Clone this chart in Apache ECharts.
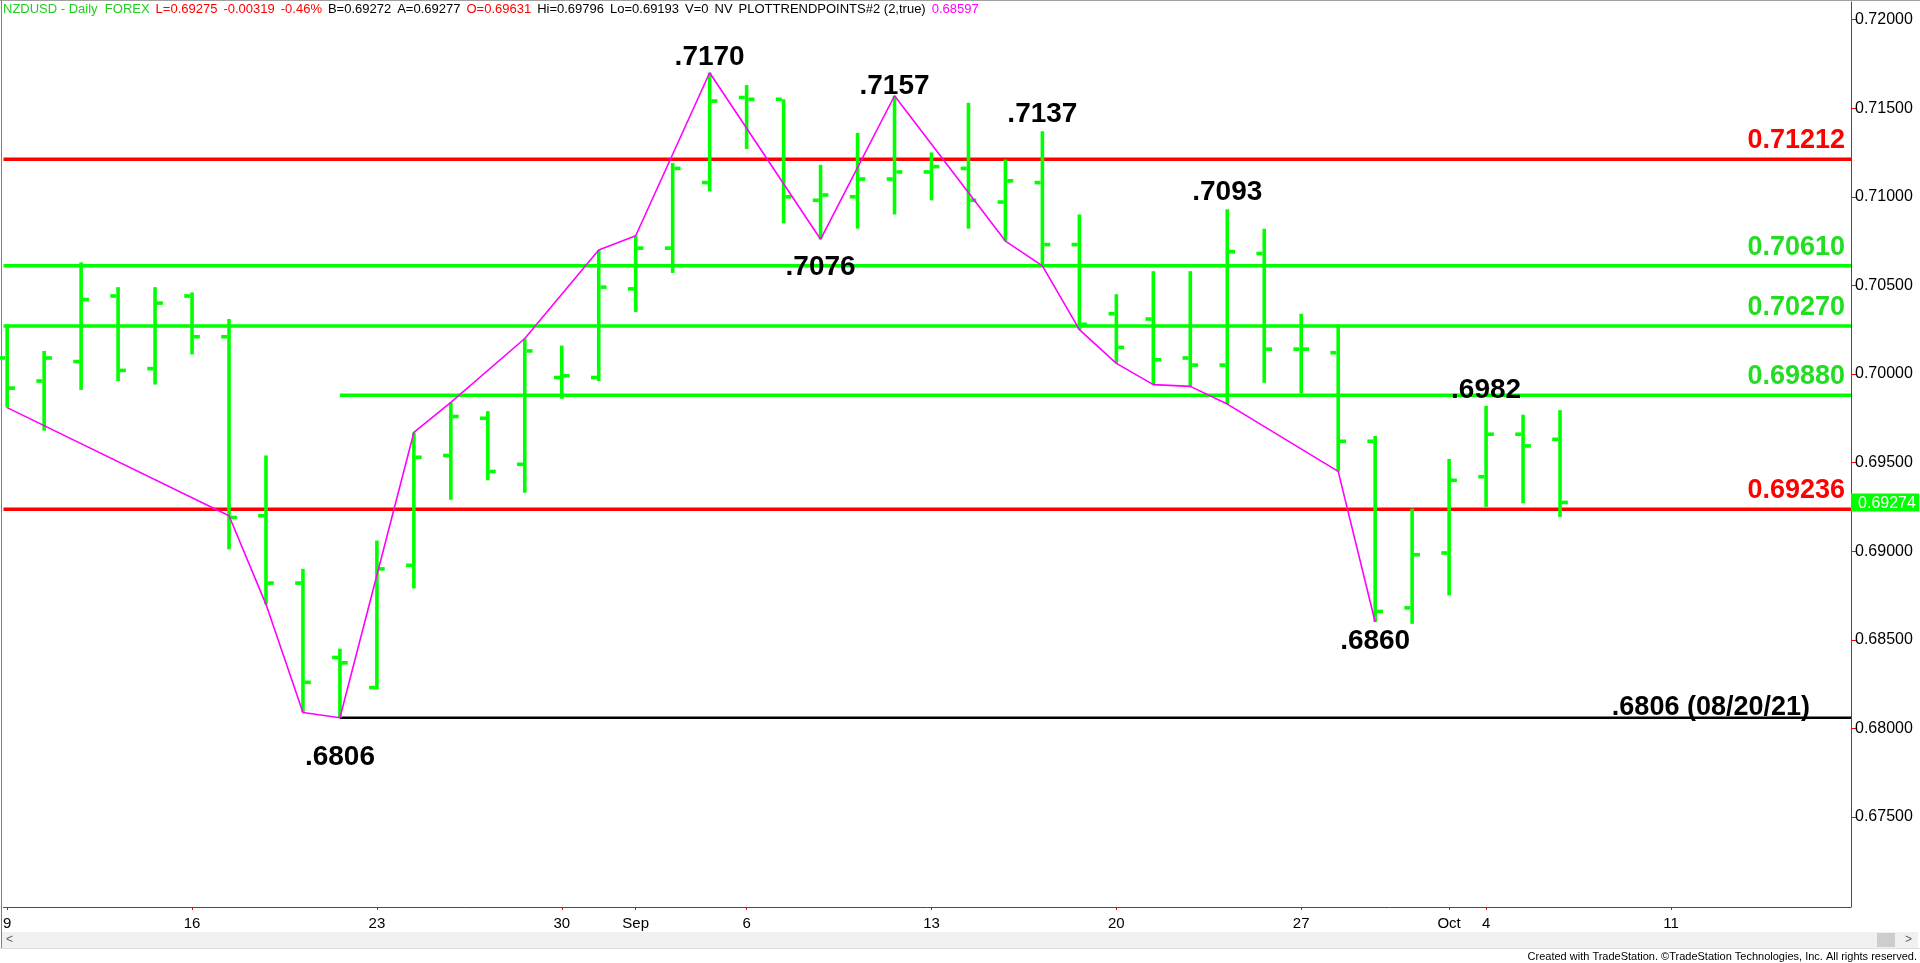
<!DOCTYPE html>
<html><head><meta charset="utf-8">
<script src="https://cdn.jsdelivr.net/npm/echarts@6/dist/echarts.min.js"></script>
<style>html,body{margin:0;padding:0;background:#fff;overflow:hidden}#c{width:1920px;height:963px}</style>
</head><body><div id="c"></div>
<script>
// ---- data ----
const barDate = ['2021-08-09','2021-08-10','2021-08-11','2021-08-12','2021-08-13','2021-08-16','2021-08-17','2021-08-18','2021-08-19','2021-08-20',
 '2021-08-23','2021-08-24','2021-08-25','2021-08-26','2021-08-27','2021-08-30','2021-08-31','2021-09-01','2021-09-02','2021-09-03',
 '2021-09-06','2021-09-07','2021-09-08','2021-09-09','2021-09-10','2021-09-13','2021-09-14','2021-09-15','2021-09-16','2021-09-17',
 '2021-09-20','2021-09-21','2021-09-22','2021-09-23','2021-09-24','2021-09-27','2021-09-28','2021-09-29','2021-09-30','2021-10-01',
 '2021-10-04','2021-10-05','2021-10-06'];
const barOpen  = [0.7009,0.6996,0.7007,0.7044,0.7003,0.7044,0.7021,0.6920,0.6882,0.6840,
 0.6823,0.6892,0.6954,0.6975,0.6949,0.6998,0.6998,0.7048,0.7071,0.7108,
 0.7156,0.7155,0.7098,0.7100,0.7110,0.7114,0.7116,0.7097,0.7108,0.7073,
 0.7034,0.7031,0.7009,0.7005,0.7068,0.7014,0.7012,0.6962,0.6868,0.6899,
 0.6942,0.6966,0.69631];
const barHigh  = [0.7028,0.7013,0.7063,0.7049,0.7049,0.7046,0.7031,0.6954,0.6890,0.6845,
 0.6906,0.6967,0.6984,0.6979,0.7020,0.7016,0.7070,0.7078,0.7119,0.7170,
 0.7163,0.7155,0.7118,0.7136,0.7157,0.7125,0.7153,0.7121,0.7137,0.7090,
 0.7045,0.7058,0.7058,0.7093,0.7082,0.7034,0.7028,0.6965,0.6924,0.6952,
 0.6982,0.6977,0.69796];
const barLow   = [0.6981,0.6968,0.6991,0.6996,0.6994,0.7011,0.6901,0.6870,0.6809,0.6806,
 0.6822,0.6879,0.6929,0.6940,0.6933,0.6986,0.6996,0.7035,0.7057,0.7103,
 0.7127,0.7085,0.7076,0.7082,0.7090,0.7098,0.7082,0.7075,0.7061,0.7025,
 0.7006,0.6994,0.6993,0.6983,0.6995,0.6989,0.6945,0.6860,0.6859,0.6875,
 0.6925,0.6927,0.69193];
const barClose = [0.6992,0.7009,0.7042,0.7002,0.7040,0.7021,0.6919,0.6882,0.6826,0.6837,
 0.6890,0.6953,0.6976,0.6945,0.7013,0.6999,0.7049,0.7071,0.7116,0.7154,
 0.7155,0.7100,0.7101,0.7110,0.7114,0.7117,0.7098,0.7109,0.7073,0.7028,
 0.7015,0.7008,0.7005,0.7069,0.7014,0.7014,0.6962,0.6866,0.6898,0.6940,
 0.6966,0.69594,0.69275];

// x axis tick labels (trading-day index -> text)
const tickIdx  = [0,5,10,15,17,20,25,30,35,39,40,45];
const tickText = ['9','16','23','30','Sep','6','13','20','27','Oct','4','11'];
const yTicks   = [0.675,0.68,0.685,0.69,0.695,0.70,0.705,0.71,0.715,0.72];

// horizontal levels
const levelValue = [0.71212,0.70610,0.70270,0.69880,0.69236,0.6806];
const levelStart = [0,0,0,9,0,9];
const levelText  = ['0.71212','0.70610','0.70270','0.69880','0.69236','.6806 (08/20/21)'];

// swing labels
const pivotIdx  = [19,24,28,22,33,9,37,40];
const pivotVal  = [0.7170,0.7157,0.7137,0.7076,0.7093,0.6806,0.6860,0.6982];
const pivotText = ['.7170','.7157','.7137','.7076','.7093','.6806','.6860','.6982'];
const pivotSide = ['H','H','H','L','H','L','L','H'];

// trend points (magenta zigzag)
const zigIdx = [0,6,7,8,9,11,12,14,16,17,19,22,24,27,28,29,30,31,32,33,36,37];
const zigVal = [0.6981,0.6920,0.6870,0.6809,0.6806,0.6967,0.6984,0.7020,0.7070,0.7078,0.7170,0.7076,0.7157,0.7075,0.7061,0.7025,0.7006,0.6994,0.6993,0.6983,0.6945,0.6860];
const zigLast = 0.68597;

const lastPrice = 0.69274;
const prevClose = 0.69594;

// ---- chart ----
const X_MIN = -0.1, X_MAX = 49.87, Y_MIN = 0.66992, Y_MAX = 0.72099;
const GREEN = '#00ff00', RED = '#ff0000', MAG = '#ff00ff';
const FONT = 'Liberation Sans, Arial, sans-serif';
const n = barDate.length;
const ohlc = barDate.map((d,i)=>[i, barOpen[i], barHigh[i], barLow[i], barClose[i]]);
const last = n-1;
const chg = barClose[last]-prevClose;

const levelColor = [RED,GREEN,GREEN,GREEN,RED,'#000000'];
const levelLabelColor = [RED,'#22dd22','#22dd22','#22dd22',RED,'#000000'];
const levelLabelDx = [-6,-6,-6,-6,-6,-41];
const levelLabelDy = [-5,-5,-5,-5,-5,3];
const pivotDy = {'.7170':-1,'.7157':5,'.7137':-3,'.7093':-3,'.6982':-2,'.7076':14,'.6806':26,'.6860':5};

const series = [];
// levels
levelValue.forEach((v,k)=>{
  series.push({type:'line', data:[[levelStart[k]===0?X_MIN:levelStart[k], v],[X_MAX, v]], symbol:'none',
    lineStyle:{color:levelColor[k], width: k===5?2.5:3.5}, silent:true, z:2});
});
// zigzag
series.push({type:'line', data: zigIdx.map((x,k)=>[x, zigVal[k]]), symbol:'none',
  lineStyle:{color:MAG, width:1.6}, z:4, silent:true});
// bars
series.push({type:'custom', data: ohlc, z:3, renderItem:function(params, api){
  const x = api.value(0);
  const pH = api.coord([x, api.value(2)]), pL = api.coord([x, api.value(3)]);
  const pO = api.coord([x, api.value(1)]), pC = api.coord([x, api.value(4)]);
  const w = 3.6, t = 6;
  return {type:'group', children:[
    {type:'rect', shape:{x:pH[0]-w/2, y:pH[1], width:w, height:Math.max(1,pL[1]-pH[1])}, style:{fill:GREEN}},
    {type:'rect', shape:{x:pO[0]-w/2-t, y:pO[1]-w/2, width:t, height:w}, style:{fill:GREEN}},
    {type:'rect', shape:{x:pC[0]+w/2, y:pC[1]-w/2, width:t, height:w}, style:{fill:GREEN}}
  ]};
}});
// level labels
series.push({type:'custom', data: levelValue.map((v,k)=>[X_MAX, v, k]), z:6, renderItem:function(params, api){
  const k = api.value(2);
  const p = api.coord([api.value(0), api.value(1)]);
  return {type:'text', x:p[0]+levelLabelDx[k], y:p[1]+levelLabelDy[k], style:{text:levelText[k], fill:levelLabelColor[k], font:'bold 27px '+FONT, align:'right', verticalAlign:'bottom'}};
}});
// pivot labels
series.push({type:'custom', data: pivotIdx.map((x,k)=>[x, pivotVal[k], k]), z:6, renderItem:function(params, api){
  const k = api.value(2);
  const p = api.coord([api.value(0), api.value(1)]);
  const hi = pivotSide[k]==='H';
  return {type:'text', x:p[0], y:p[1]+pivotDy[pivotText[k]], style:{text:pivotText[k], fill:'#000', font:'bold 28px '+FONT, align:'center', verticalAlign: hi?'bottom':'top'}};
}});
// price tag
series.push({type:'custom', data:[[X_MAX, lastPrice]], z:7, renderItem:function(params, api){
  const p = api.coord([api.value(0), api.value(1)]);
  return {type:'group', children:[
    {type:'rect', shape:{x:p[0], y:p[1]-9, width:68, height:18}, style:{fill:GREEN}},
    {type:'text', x:p[0]+36, y:p[1]+1, style:{text:lastPrice.toFixed(5), fill:'#ffffff', font:'16px '+FONT, align:'center', verticalAlign:'middle'}}
  ]};
}});

const S = '{s| }';
const hdr = '{g|NZDUSD - Daily  FOREX}'+S+'{r|L='+barClose[last].toFixed(5)+'}'+S+'{r|'+chg.toFixed(5)+'}'+S+'{r|'+(chg/prevClose*100).toFixed(2)+'%}'+S+
  '{k|B=0.69272}'+S+'{k|A=0.69277}'+S+'{r|O='+barOpen[last].toFixed(5)+'}'+S+'{k|Hi='+barHigh[last].toFixed(5)+'}'+S+'{k|Lo='+barLow[last].toFixed(5)+'}'+S+
  '{k|V=0}'+S+'{k|NV}'+S+'{k|PLOTTRENDPOINTS#2 (2,true)}'+S+'{m|'+zigLast.toFixed(5)+'}';

const option = {
  animation:false,
  backgroundColor:'#ffffff',
  title:[{text: hdr, left:3, top:3, padding:0, textStyle:{fontSize:13, fontFamily:FONT, fontWeight:'normal',
     rich:{g:{color:'#22cc22',fontSize:13,fontFamily:FONT}, r:{color:'#ff0000',fontSize:13,fontFamily:FONT}, k:{color:'#000',fontSize:13,fontFamily:FONT}, m:{color:MAG,fontSize:13,fontFamily:FONT}, s:{width:6,fontSize:13}}}}],
  grid:{left:2, right:69, top:2, bottom:56, containLabel:false},
  xAxis:{type:'value', min:X_MIN, max:X_MAX, splitLine:{show:false},
    axisLine:{show:true, onZero:false, lineStyle:{color:RED, width:1}},
    axisTick:{show:true, length:3, lineStyle:{color:RED}, customValues: tickIdx},
    axisLabel:{customValues: tickIdx, formatter: v => tickText[tickIdx.indexOf(Math.round(v))] || '', color:'#000', fontSize:15, fontFamily:FONT, margin:9}},
  yAxis:{type:'value', position:'right', min:Y_MIN, max:Y_MAX, scale:true, splitLine:{show:false},
    axisLine:{show:true, onZero:false, lineStyle:{color:RED, width:1}},
    axisTick:{show:true, length:5, lineStyle:{color:RED}, customValues: yTicks},
    axisLabel:{customValues: yTicks, formatter: v => v.toFixed(5), color:'#000', fontSize:16, fontFamily:FONT, margin:4}},
  series: series,
  graphic:[
    {type:'line', shape:{x1:0, y1:0.5, x2:1920, y2:0.5}, style:{stroke:'#a0a0a0', lineWidth:1}},
    {type:'line', shape:{x1:1.5, y1:0, x2:1.5, y2:948}, style:{stroke:'#808080', lineWidth:1}},
    {type:'rect', shape:{x:2, y:932, width:1916, height:16}, style:{fill:'#f0f0f0'}},
    {type:'line', shape:{x1:0, y1:948.5, x2:1920, y2:948.5}, style:{stroke:'#e0e0e0', lineWidth:1}},
    {type:'rect', shape:{x:1877, y:933, width:18, height:14}, style:{fill:'#cdcdcd'}},
    {type:'text', x:6, y:940, style:{text:'<', fill:'#606060', font:'12px '+FONT, verticalAlign:'middle'}},
    {type:'text', x:1905, y:940, style:{text:'>', fill:'#606060', font:'12px '+FONT, verticalAlign:'middle'}},
    {type:'text', right:3, bottom:1, style:{text:'Created with TradeStation. \u00A9TradeStation Technologies, Inc. All rights reserved.', fill:'#000', font:'11px '+FONT}}
  ]
};
const chart = echarts.init(document.getElementById('c'));
chart.setOption(option);
</script>
</body></html>
